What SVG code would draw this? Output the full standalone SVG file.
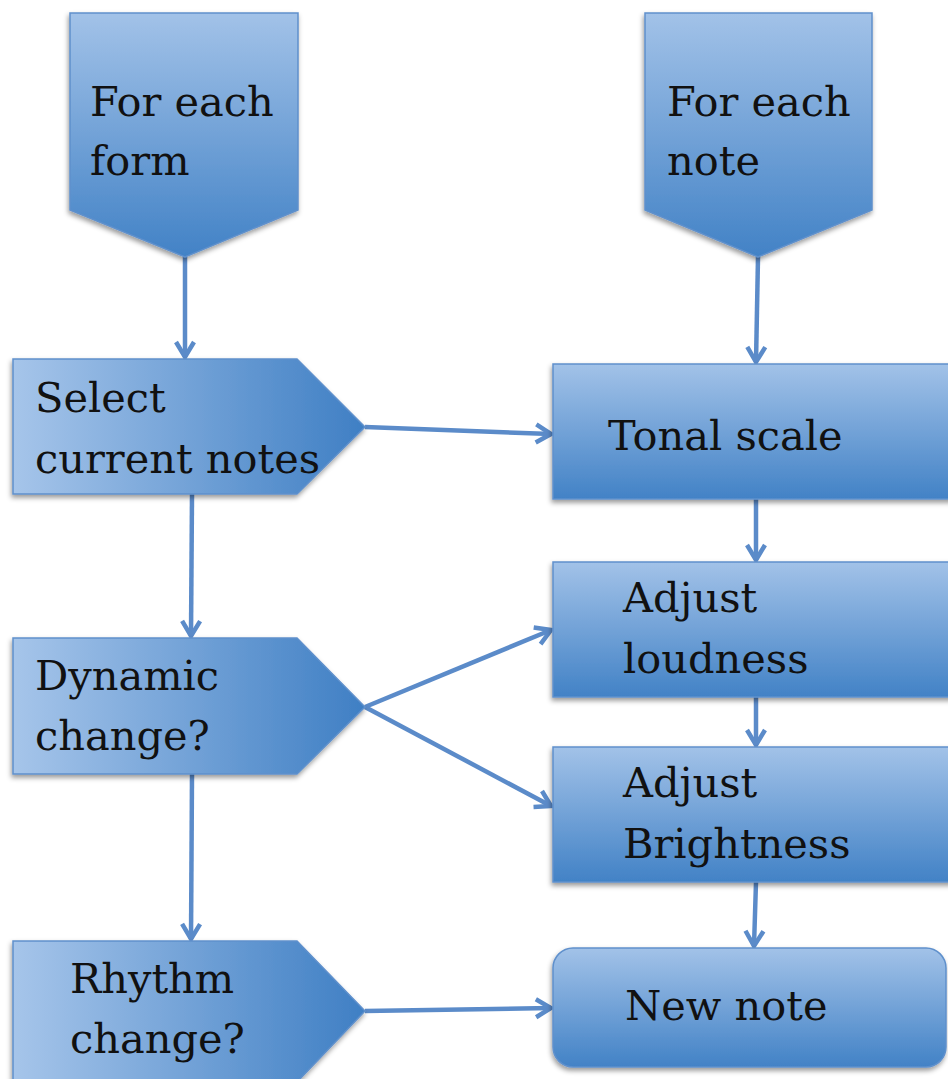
<svg xmlns="http://www.w3.org/2000/svg" width="948" height="1079" viewBox="0 0 948 1079">
<defs>
  <linearGradient id="gv" x1="0" y1="0" x2="0" y2="1">
    <stop offset="0" stop-color="#a2c2e8"/>
    <stop offset="1" stop-color="#4282c6"/>
  </linearGradient>
  <linearGradient id="gh" x1="0" y1="0" x2="1" y2="0">
    <stop offset="0" stop-color="#a6c5ea"/>
    <stop offset="1" stop-color="#3f7fc4"/>
  </linearGradient>
  <filter id="sh" x="-10%" y="-10%" width="130%" height="130%">
    <feDropShadow dx="-1" dy="3" stdDeviation="2.5" flood-color="#000" flood-opacity="0.4"/>
  </filter>
  <marker id="arr" viewBox="0 0 24 24" refX="21" refY="12" markerWidth="24" markerHeight="24" markerUnits="userSpaceOnUse" orient="auto">
    <path d="M6,3 L21,12 L6,21" fill="none" stroke="#5b8bc9" stroke-width="4.5"/>
  </marker>
  <style>
    .nv { fill: url(#gv); stroke: #5f90cc; stroke-width: 1.5; filter: url(#sh); }
    .nh { fill: url(#gh); stroke: #5f90cc; stroke-width: 1.5; filter: url(#sh); }
    .t { font-family: "DejaVu Serif", "Liberation Serif", serif; font-size: 41.5px; fill: #111; }
    .c { fill: none; stroke: #5b8bc9; stroke-width: 4.5; marker-end: url(#arr); }
  </style>
</defs>
<rect width="948" height="1079" fill="#fff"/>
<g id="connectors">
  <line class="c" x1="185" y1="257" x2="185" y2="357"/>
  <line class="c" x1="758" y1="257" x2="756" y2="362"/>
  <line class="c" x1="365" y1="427" x2="551" y2="434"/>
  <line class="c" x1="192" y1="494" x2="191" y2="636"/>
  <line class="c" x1="756" y1="499" x2="756" y2="560"/>
  <line class="c" x1="365" y1="707" x2="551" y2="630"/>
  <line class="c" x1="365" y1="707" x2="551" y2="806"/>
  <line class="c" x1="756" y1="697" x2="756" y2="745"/>
  <line class="c" x1="192" y1="774" x2="191" y2="939"/>
  <line class="c" x1="756" y1="882" x2="754" y2="946"/>
  <line class="c" x1="365" y1="1011" x2="551" y2="1008"/>
</g>
<g id="for-each-form">
  <polygon class="nv" points="70,13 298,13 298,210 185,257 70,210"/>
  <text class="t" x="90" y="116">For each</text>
  <text class="t" x="90" y="175">form</text>
</g>
<g id="for-each-note">
  <polygon class="nv" points="645,13 872,13 872,210 758,257 645,210"/>
  <text class="t" x="667" y="116">For each</text>
  <text class="t" x="667" y="175">note</text>
</g>
<g id="select-current-notes">
  <polygon class="nh" points="13,359 297,359 365,427 297,494 13,494"/>
  <text class="t" x="35" y="412">Select</text>
  <text class="t" x="35" y="473">current notes</text>
</g>
<g id="tonal-scale">
  <rect class="nv" x="553" y="364" width="400" height="135"/>
  <text class="t" x="608" y="450">Tonal scale</text>
</g>
<g id="dynamic-change">
  <polygon class="nh" points="13,638 297,638 365,707 297,774 13,774"/>
  <text class="t" x="35" y="690">Dynamic</text>
  <text class="t" x="35" y="750">change?</text>
</g>
<g id="adjust-loudness">
  <rect class="nv" x="553" y="562" width="400" height="135"/>
  <text class="t" x="623" y="612">Adjust</text>
  <text class="t" x="623" y="673">loudness</text>
</g>
<g id="adjust-brightness">
  <rect class="nv" x="553" y="747" width="400" height="135"/>
  <text class="t" x="623" y="797">Adjust</text>
  <text class="t" x="623" y="858">Brightness</text>
</g>
<g id="rhythm-change">
  <polygon class="nh" points="13,941 297,941 365,1011 297,1082 13,1082"/>
  <text class="t" x="70" y="993">Rhythm</text>
  <text class="t" x="70" y="1053">change?</text>
</g>
<g id="new-note">
  <rect class="nv" x="553" y="948" width="393" height="119" rx="20"/>
  <text class="t" x="625" y="1020">New note</text>
</g>
</svg>
